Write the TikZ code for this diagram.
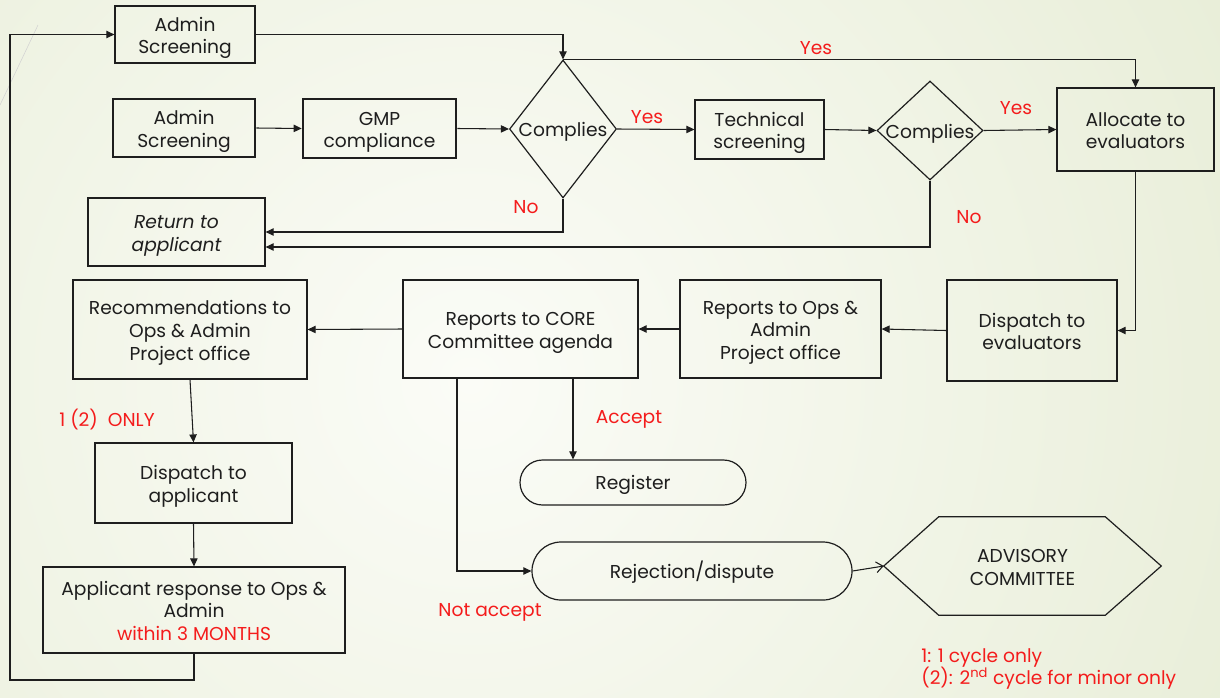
\documentclass[tikz,border=0pt]{standalone}
\usepackage{fontspec}
\setmainfont{Poppins}
\usetikzlibrary{arrows.meta,shapes.geometric,shapes.misc,calc}
\definecolor{bgin}{HTML}{FBFCF7}
\definecolor{bgout}{HTML}{D6E0BA}
\definecolor{ink}{HTML}{1E1E1E}
\definecolor{lblred}{HTML}{F41C1C}
\newcommand\mlines[1]{\begin{tabular}{@{}c@{}}\rule{0pt}{17pt}#1\end{tabular}}
\begin{document}
\begin{tikzpicture}[x=0.75pt,y=-0.75pt,
  font=\fontsize{14}{17}\selectfont, text=ink,
  lower/.style={execute at begin node={\rule{0pt}{15pt}}},
  box/.style={draw=ink, line width=0.9pt, inner sep=0pt},
  thickbox/.style={box, line width=2pt},
  dia/.style={diamond, draw=ink, line width=0.9pt, inner sep=0pt},
  term/.style={rounded rectangle, draw=ink, line width=0.9pt, inner sep=0pt, lower},
  lbl/.style={text=lblred},
  arr/.style={draw=ink, line width=0.8pt, -{Triangle[length=6pt,width=5.5pt]}},
  ln/.style={draw=ink, line width=0.8pt},
]
% background
\useasboundingbox (0,0) rectangle (1220,697);
\begin{scope}
  \clip (0,0) rectangle (1220,697);
  \shade[inner color=bgin, outer color=bgout] (470,380) circle (1700);
\end{scope}
\draw[gray!35, line width=0.4pt] (0,105) -- (38,25);

% nodes
\node[box, minimum width=105pt, minimum height=42.75pt] (as1) at (185,34.5) {\mlines{Admin\\Screening}};
\node[thickbox, minimum width=106.5pt, minimum height=43.5pt] (as2) at (184,128) {\mlines{Admin\\Screening}};
\node[thickbox, minimum width=114.75pt, minimum height=44.25pt] (gmp) at (379.5,128.5) {\mlines{GMP\\compliance}};
\node[dia, minimum width=80.25pt, minimum height=103.5pt] (d1) at (563,129) {};
\node (d1t) at ($(d1.center)+(0,3)$) {Complies};
\node[box, minimum width=96.75pt, minimum height=44.25pt] (tech) at (759.5,129.5) {\mlines{Technical\\screening}};
\node[dia, minimum width=79.5pt, minimum height=74.25pt] (d2) at (930,130.5) {};
\node (d2t) at ($(d2.center)+(0,3)$) {Complies};
\node[box, minimum width=117.75pt, minimum height=62.25pt] (alloc) at (1135.5,129.5) {\mlines{Allocate to\\evaluators}};
\node[box, minimum width=132.75pt, minimum height=51pt, font=\itshape\fontsize{14}{17}\selectfont] (ret) at (176.5,232) {\mlines{Return to\\applicant}};
\node[box, minimum width=127.5pt, minimum height=75.75pt] (disp) at (1032,330.5) {\mlines{Dispatch to\\evaluators}};
\node[box, minimum width=150.75pt, minimum height=73.5pt] (rops) at (780.5,329) {\mlines{Reports to Ops \&\\Admin\\Project office}};
\node[box, minimum width=176.25pt, minimum height=73.5pt] (core) at (520.5,329) {\mlines{Reports to CORE\\Committee agenda}};
\node[box, minimum width=175.5pt, minimum height=74.25pt] (rec) at (190,329.5) {\mlines{Recommendations to\\Ops \& Admin\\Project office}};
\node[box, minimum width=147.75pt, minimum height=60pt] (dapp) at (193.5,483) {\mlines{Dispatch to\\applicant}};
\node[box, minimum width=226.5pt, minimum height=64.5pt] (resp) at (194,610) {\mlines{Applicant response to Ops \&\\Admin\\\textcolor{lblred}{within 3 MONTHS}}};
\node[term, minimum width=169.5pt, minimum height=33.75pt] (reg) at (633,482.5) {Register};
\node[term, minimum width=240pt, minimum height=43.5pt] (rej) at (692,571) {Rejection/dispute};
\node[inner sep=0pt, minimum width=207.75pt, minimum height=73.5pt] (hex) at (1022.5,566) {\mlines{ADVISORY\\COMMITTEE}};
\draw[ink, line width=0.9pt] (hex.west) -- ($(hex.north west)+(55,0)$) -- ($(hex.north east)+(-56,0)$)
  -- (hex.east) -- ($(hex.south east)+(-56,0)$) -- ($(hex.south west)+(55,0)$) -- cycle;

% labels
\node[lbl] (y0) at (816,48) {Yes};
\node[lbl] (y1) at (647,117) {Yes};
\node[lbl] (y2) at (1016,108) {Yes};
\node[lbl] (n1) at (526,207) {No};
\node[lbl] (n2) at (969,217) {No};
\node[lbl] (acc) at (629,419) {Accept};
\node[lbl] (nacc) at (490,612) {Not accept};
\node[lbl] (only) at (107,420) {1 (2)~ ONLY};
\node[lbl, anchor=north west, align=left, inner sep=0pt] (notes) at (921,648) {1: 1 cycle only\\(2): 2\textsuperscript{nd} cycle for minor only};

% connectors
\coordinate (lb) at (10,680);
\coordinate (cn) at ($(core.south)+(-63.5,0)$);
\coordinate (ca) at ($(core.south)+(52.5,0)$);
\draw[arr] (resp.south) |- (lb) |- (as1.west);
\draw[arr] (as1.east) -| (d1.north);
\draw[arr] (d1.north) -| (alloc.north);
\draw[arr] (as2.east) -- (gmp.west);
\draw[arr] (gmp.east) -- (d1.west);
\draw[arr] (d1.east) -- (tech.west);
\draw[arr] (tech.east) -- (d2.west);
\draw[arr] (d2.east) -- (alloc.west);
\draw[arr] (d1.south) |- (ret.east);
\draw[arr] (d2.south) |- ($(ret.east)+(0,15)$);
\draw[arr] (alloc.south) |- (disp.east);
\draw[arr] (disp.west) -- (rops.east);
\draw[arr] (rops.west) -- (core.east);
\draw[arr] (core.west) -- (rec.east);
\draw[arr] (rec.south) -- (dapp.north);
\draw[arr] (dapp.south) -- (resp.north);
\draw[arr] (cn) |- (rej.west);
\draw[arr] (ca) -- (ca |- reg.north);
\draw[ln, -{Straight Barb[length=5pt,width=8pt]}] (rej.east) -- (hex.west);
\end{tikzpicture}
\end{document}
